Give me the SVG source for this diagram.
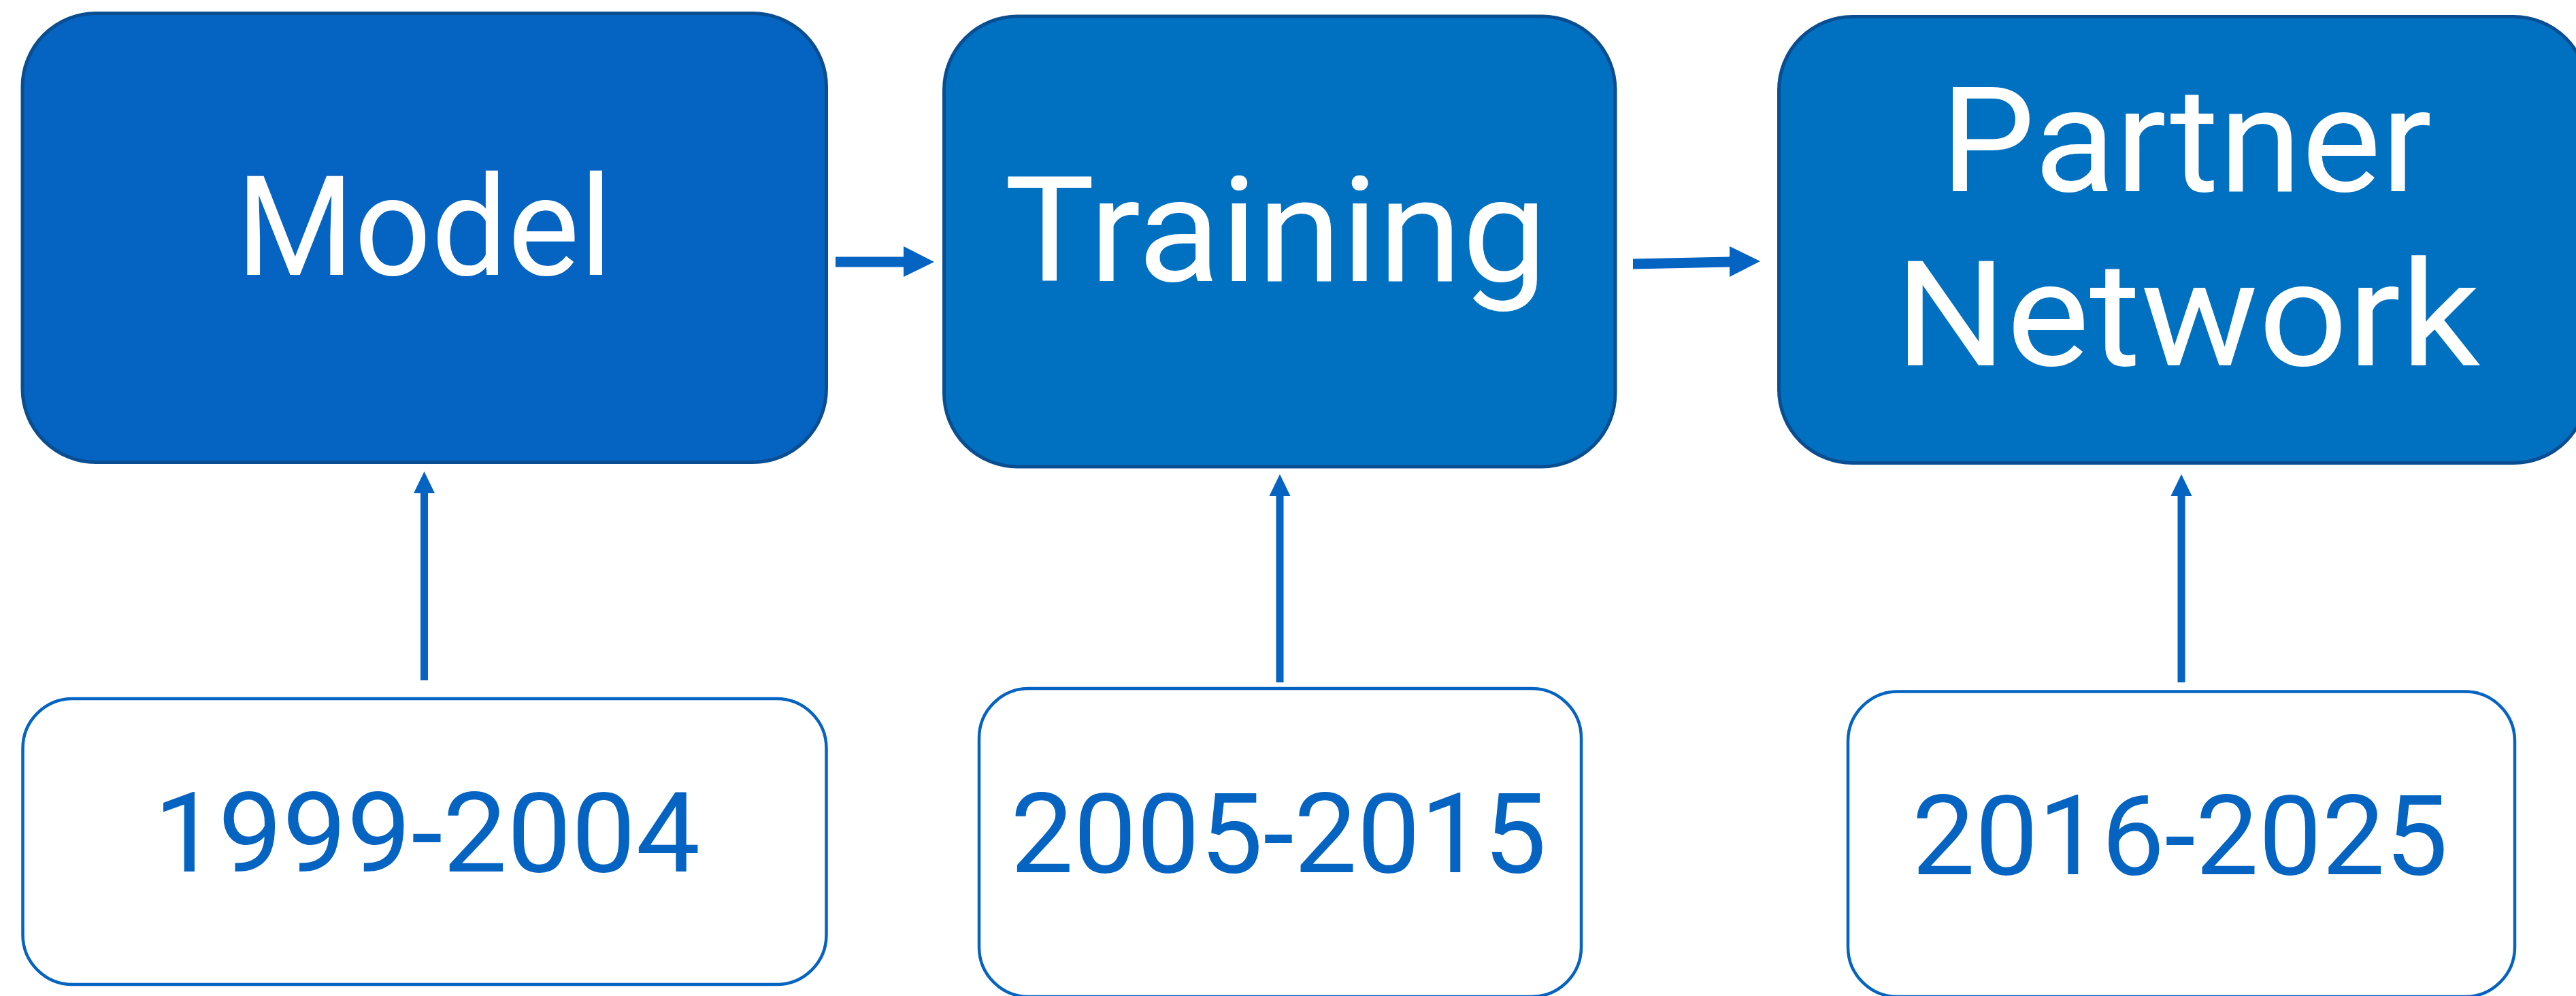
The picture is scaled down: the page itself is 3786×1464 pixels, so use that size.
<svg xmlns="http://www.w3.org/2000/svg" width="3786" height="1464" viewBox="0 0 3786 1464">
<style>
.top{stroke:#0A4E92;stroke-width:5}
.t1{fill:#0563C1}
.t2{fill:#0070C0}
.bot{fill:#FFFFFF;stroke:#0563C1;stroke-width:4.5}
.lbl{font-family:Roboto,"Noto Sans","Liberation Sans",sans-serif;fill:#FFFFFF;text-anchor:middle}
.yr{font-family:Roboto,"Noto Sans","Liberation Sans",sans-serif;fill:#0563C1;text-anchor:middle;font-size:164px}
.arr{fill:#0563C1}
</style>
<rect width="3786" height="1464" fill="#FFFFFF"/>
<g id="node-model">
<rect class="top t1" x="33" y="19.5" width="1181.5" height="660" rx="108" ry="108"/>
<text class="lbl" x="623.5" y="404" font-size="204" textLength="553" lengthAdjust="spacingAndGlyphs">Model</text>
</g>
<g id="node-training">
<rect class="top t2" x="1387.5" y="24" width="986.5" height="662" rx="108" ry="108"/>
<text class="lbl" x="1875" y="413" font-size="216" textLength="798" lengthAdjust="spacingAndGlyphs">Training</text>
</g>
<g id="node-partner">
<rect class="top t2" x="2614.5" y="24.5" width="1188" height="656" rx="108" ry="108"/>
<text class="lbl" x="3213" y="281" font-size="215" textLength="722" lengthAdjust="spacingAndGlyphs">Partner</text>
<text class="lbl" x="3215" y="537" font-size="215" textLength="860" lengthAdjust="spacingAndGlyphs">Network</text>
</g>
<g id="node-1999">
<rect class="bot" x="33.5" y="1027" width="1181" height="420" rx="73" ry="73"/>
<text class="yr" x="627.5" y="1281" textLength="803" lengthAdjust="spacingAndGlyphs">1999-2004</text>
</g>
<g id="node-2005">
<rect class="bot" x="1439" y="1012" width="885" height="453" rx="73" ry="73"/>
<text class="yr" x="1879" y="1282" textLength="788" lengthAdjust="spacingAndGlyphs">2005-2015</text>
</g>
<g id="node-2016">
<rect class="bot" x="2716" y="1016.5" width="980" height="448.5" rx="73" ry="73"/>
<text class="yr" x="3204" y="1285" textLength="788" lengthAdjust="spacingAndGlyphs">2016-2025</text>
</g>
<g id="connectors">
<polygon class="arr" points="1228,377.5 1328,377.5 1328,362 1373,385 1328,407 1328,392.5 1228,392.5"/>
<polygon class="arr" points="2400,380.5 2542,377.5 2542,362 2587,384 2542,407 2542,392.5 2400,395.5"/>
<polygon class="arr" points="618,1000 618,725 608,725 623.5,693 639,725 629,725 629,1000"/>
<polygon class="arr" points="1875.5,1003 1875.5,729 1865.5,729 1881,697 1896.5,729 1886.5,729 1886.5,1003"/>
<polygon class="arr" points="3200.5,1003 3200.5,729 3190.5,729 3206,697 3221.5,729 3211.5,729 3211.5,1003"/>
</g>
</svg>
